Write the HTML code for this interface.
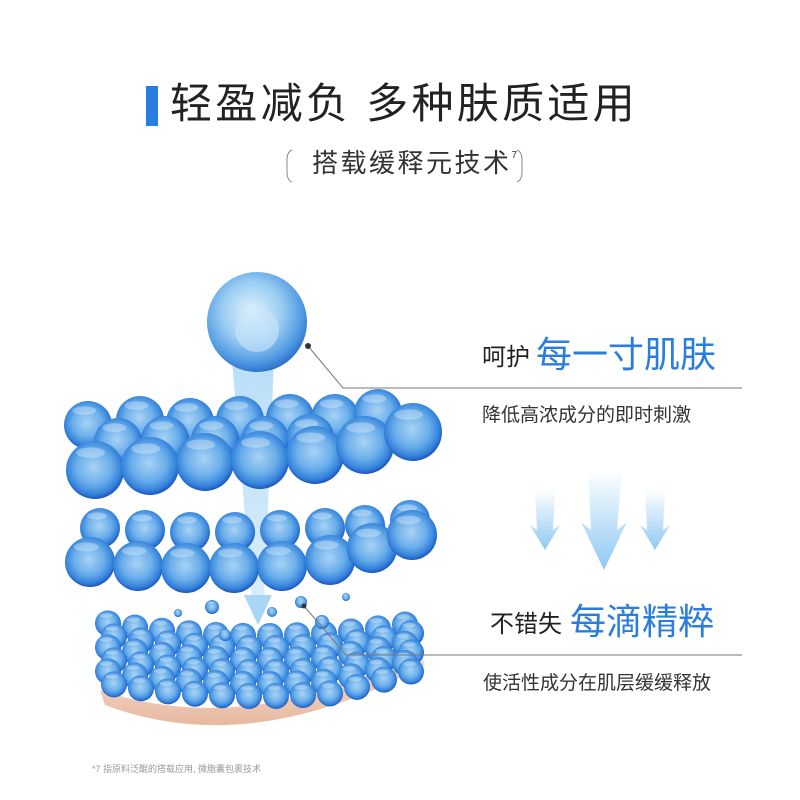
<!DOCTYPE html>
<html><head><meta charset="utf-8"><style>
html,body{margin:0;padding:0;background:#fff;}
body{width:800px;height:800px;position:relative;overflow:hidden;font-family:"Liberation Sans","Noto Sans CJK SC",sans-serif;}
.t{position:absolute;white-space:nowrap;line-height:1;}
</style></head><body>
<div style="position:absolute;left:146px;top:86px;width:12px;height:40px;background:#2a7de0"></div>
<div class="t" style="left:170px;top:83px;font-size:42px;color:#222;letter-spacing:3.3px">轻盈减负 多种肤质适用</div>
<div class="t" style="left:312px;top:150px;font-size:26px;color:#333;letter-spacing:2.5px">搭载缓释元技术<sup style="font-size:10px;vertical-align:14px">7</sup></div>

<svg width="800" height="800" style="position:absolute;left:0;top:0">
<defs>
<radialGradient id="s" cx="48%" cy="45%" r="55%">
<stop offset="0" stop-color="#a9d3f5"/><stop offset="0.55" stop-color="#6aaeea"/><stop offset="0.85" stop-color="#3583dc"/><stop offset="1" stop-color="#1a56c0"/></radialGradient>
<radialGradient id="b" cx="45%" cy="40%" r="60%">
<stop offset="0" stop-color="#e2f2fd"/><stop offset="0.5" stop-color="#9acdf2"/><stop offset="0.85" stop-color="#4f98e2"/><stop offset="1" stop-color="#2f74cc"/></radialGradient>
<linearGradient id="beam" x1="0" y1="0" x2="0" y2="1"><stop offset="0" stop-color="#a8d6f5"/><stop offset="1" stop-color="#cfe8fa"/></linearGradient>
<linearGradient id="ar" x1="0" y1="0" x2="0" y2="1"><stop offset="0" stop-color="#fff"/><stop offset="1" stop-color="#8ec8f2"/></linearGradient>
<linearGradient id="skin" x1="0" y1="0" x2="0" y2="1"><stop offset="0" stop-color="#f7e3d8"/><stop offset="1" stop-color="#e8b8a0"/></linearGradient>
</defs>
<path d="M292 150 Q287 152 287 160 L287 172 Q287 180 292 182" fill="none" stroke="#888" stroke-width="1"/>
<path d="M517 150 Q522 152 522 160 L522 172 Q522 180 517 182" fill="none" stroke="#888" stroke-width="1"/>
<!-- beam -->
<polygon points="232,360 274,360 264,600 252,600" fill="url(#beam)" opacity="0.8"/>
<polygon points="244,595 272,595 258,625" fill="#a8d6f5"/>
<!-- right arrows -->
<path d="M535 490 L555 490 L553 530 L560 525 L545 550 L530 525 L537 530 Z" fill="url(#ar)"/>
<path d="M588 470 L622 470 L617 530 L627 522 L604 570 L581 522 L591 530 Z" fill="url(#ar)"/>
<path d="M645 490 L665 490 L663 530 L670 525 L655 550 L640 525 L647 530 Z" fill="url(#ar)"/>
<!-- skin -->
<path d="M100 690 Q250 740 420 650 L425 665 Q250 760 105 705 Z" fill="url(#skin)"/>
<g id="spheres"></g>
<!-- big sphere -->
<circle cx="257" cy="322" r="50" fill="url(#b)"/>
<circle cx="257" cy="330" r="22" fill="#cbe6fa" opacity="0.6"/>
<!-- connectors -->
<polyline points="308,346 343,388 742,388" fill="none" stroke="#777" stroke-width="1"/>
<circle cx="308" cy="346" r="3" fill="#333"/>
<polyline points="304,606 346,655 742,655" fill="none" stroke="#777" stroke-width="1"/>
<circle cx="304" cy="606" r="2.5" fill="#333"/>
</svg>
<script>
var g=document.getElementById('spheres'),h='';
function c(x,y,r){h+='<circle cx="'+x+'" cy="'+y+'" r="'+r+'" fill="url(#s)"/><ellipse cx="'+(x-r*0.15)+'" cy="'+(y-r*0.6)+'" rx="'+r*0.5+'" ry="'+r*0.18+'" fill="#fff" opacity="0.3"/>';}
for(var row=0;row<6;row++){for(var i=0;i<12;i++){var x=108+i*27+(row%2)*6;var y=636+row*12+Math.pow((x-260)/160,2)*(-14);if(x>425)continue;c(x,y+(i>8?-(i-8)*4*(row/5):0),13);}}
[[178,613,4],[212,607,7],[272,612,5],[301,602,6],[322,622,7],[346,597,4],[225,635,6]].forEach(function(d){c(d[0],d[1],d[2]);});
[[100,528],[145,530],[190,532],[235,532],[280,530],[325,528],[365,525],[410,520]].forEach(function(p){c(p[0],p[1],20);});
[[90,562],[138,566],[186,568],[234,568],[282,566],[330,560],[372,548],[412,535]].forEach(function(p){c(p[0],p[1],25);});
[[88,425],[140,420],[190,422],[240,420],[290,418],[335,418],[378,413]].forEach(function(p){c(p[0],p[1],24);});
[[118,442],[165,440],[215,440],[265,440],[310,438]].forEach(function(p){c(p[0],p[1],24);});
[[95,470],[150,466],[205,462],[260,460],[315,455],[365,445],[413,432]].forEach(function(p){c(p[0],p[1],29);});
g.innerHTML=h;
</script>
<div class="t" style="left:482px;top:346px;font-size:24px;color:#222">呵护</div>
<div class="t" style="left:536px;top:337px;font-size:36px;color:#2a7de0">每一寸肌肤</div>
<div class="t" style="left:482px;top:406px;font-size:19px;color:#333">降低高浓成分的即时刺激</div>
<div class="t" style="left:490px;top:613px;font-size:24px;color:#222">不错失</div>
<div class="t" style="left:570px;top:604px;font-size:36px;color:#2a7de0">每滴精粹</div>
<div class="t" style="left:483px;top:674px;font-size:19px;color:#333">使活性成分在肌层缓缓释放</div>
<div class="t" style="left:92px;top:765px;font-size:9px;color:#999">*7 指原料泛醌的搭载应用, 微脂囊包裹技术</div>
</body></html>
